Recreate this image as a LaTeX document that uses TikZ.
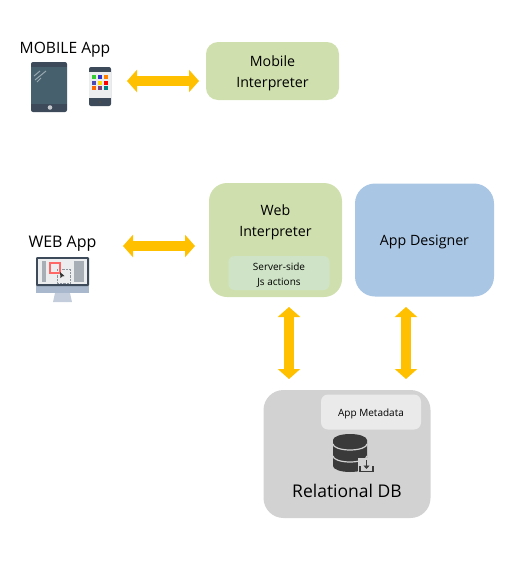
\documentclass[tikz,border=0pt]{standalone}
\usepackage{fontspec}
\setmainfont{Open Sans}
\usepackage{xcolor}
\usetikzlibrary{arrows.meta,positioning}
\definecolor{boxgreen}{HTML}{CFE0AE}
\definecolor{boxpale}{HTML}{CFE4C6}
\definecolor{boxblue}{HTML}{A9C6E4}
\definecolor{boxgrey}{HTML}{D2D2D2}
\definecolor{boxlight}{HTML}{EAEAEA}
\definecolor{linkgold}{HTML}{FFC000}
\definecolor{slate}{HTML}{3C4A5A}
\definecolor{screen}{HTML}{46606E}
\definecolor{dbdark}{HTML}{3A3A3A}
\definecolor{standblue}{HTML}{A9B8CC}

\begin{document}
\begin{tikzpicture}[x=1pt, y=-1pt, font=\fontsize{14.2}{21}\selectfont,
    box/.style={rectangle, rounded corners=12pt, align=center, inner sep=0pt},
    link/.style={draw=linkgold, line width=10pt, {Triangle[length=10pt,width=22pt]}-{Triangle[length=10pt,width=22pt]}},
    label/.style={inner sep=0pt, align=center}]
    \useasboundingbox (0,0) rectangle (518,563);
    % boxes
    \node[box, fill=boxgreen, minimum width=133, minimum height=58] (mobile) at (272.5,71) {};
    \node[label] (mobiletext) at (272.5,73) {Mobile\\Interpreter};
    \node[box, rounded corners=18pt, fill=boxgreen, minimum width=133, minimum height=114] (web) at (275.5,240) {};
    \node[label] (webtext) at (275.5,222) {Web\\Interpreter};
    \node[box, rounded corners=6pt, fill=boxpale, minimum width=101, minimum height=34] (js) at (279,273) {};
    \node[label, font=\fontsize{10}{15}\selectfont] (jstext) at (279,275) {Server-side\\Js actions};
    \node[box, rounded corners=20pt, fill=boxblue, minimum width=139, minimum height=113] (designer) at (424.5,240) {};
    \node[label] (designertext) at (424.5,242) {App Designer};
    \node[box, rounded corners=20pt, fill=boxgrey, minimum width=167, minimum height=128] (db) at (347,454) {};
    \node[box, rounded corners=7pt, fill=boxlight, minimum width=100, minimum height=35] (meta) at (371,412) {};
    \node[label, font=\fontsize{10}{12}\selectfont] (metatext) at (371,413.5) {App Metadata};
    \node[label, font=\fontsize{17.5}{20}\selectfont] (dbtext) at (347,491) {Relational DB};
    % titles
    \node[label, font=\fontsize{15.6}{18}\selectfont] (mobiletitle) at (65,50) {MOBILE App};
    \node[label, font=\fontsize{16}{18}\selectfont] (webtitle) at (62.5,244) {WEB App};
    % link ends
    \coordinate (m1) at (127,81);
    \coordinate (m2) at (199,81);
    \coordinate (w1) at (123,246);
    \coordinate (w2) at (195,246);
    \coordinate (wb1) at (289,307);
    \coordinate (wb2) at (289,379);
    \coordinate (db1) at (406,307);
    \coordinate (db2) at (406,379);
    \draw[link] (m1) -- (m2);
    \draw[link] (w1) -- (w2);
    \draw[link] (wb1) -- (wb2);
    \draw[link] (db1) -- (db2);
    % tablet
    \fill[slate, rounded corners=2pt] (31,62) rectangle (67,112);
    \fill[screen] (31,67) rectangle (67,104);
    \fill[white!70!slate] (50,107.5) circle (2.3);
    \draw[white!45!screen, line width=1pt] (34,76) -- (40,71) (35,80) -- (46,71) (37,82) -- (41,78);
    % phone
    \fill[slate, rounded corners=2pt] (89,67) rectangle (111,106);
    \fill[white!90!slate] (89,72) rectangle (111,98);
    \foreach \col/\row/\tint in {0/0/green!60!gray, 1/0/blue!60!gray, 2/0/orange, 0/1/blue!40!gray, 1/1/yellow!80!orange, 2/1/red, 0/2/orange!80!red, 1/2/violet!50!gray, 2/2/teal}
        \fill[\tint] (92+\col*6,75+\row*5.7) rectangle +(4,4);
    \fill[black!70] (100,102) circle (1.5);
    % monitor
    \fill[standblue!70!white] (55,293) -- (70,293) -- (72,302) -- (53,302) -- cycle;
    \fill[standblue] (36,286) rectangle (89,293);
    \fill[slate, rounded corners=1pt] (36,257) rectangle (89,286);
    \fill[white!90!slate] (38,259) rectangle (87,284);
    \fill[white!55!slate] (42,261) rectangle (46,282);
    \fill[white!55!slate] (74,261) rectangle (84,282);
    \draw[white!40!slate, densely dotted] (57,269) rectangle (70,283);
    \draw[red!60, line width=2pt] (50,263) rectangle (60,273);
    \fill[black!80] (60,272) -- (64.5,276) -- (62,276.5) -- (60.5,278) -- cycle;
    % database icon
    \fill[dbdark] (333,440) -- (333,466) arc[start angle=180, end angle=0, x radius=17, y radius=6] -- (367,440) -- cycle;
    \fill[dbdark] (350,440) ellipse[x radius=17, y radius=6];
    \draw[boxgrey, line width=1.2pt] (333,444) arc[start angle=180, end angle=0, x radius=17, y radius=6];
    \draw[boxgrey, line width=1.2pt] (333,456) arc[start angle=180, end angle=0, x radius=17, y radius=6];
    \fill[boxgrey] (358,458) rectangle (376,475);
    \draw[dbdark, line width=1.5pt] (360,466) -- (360,471.5) -- (373,471.5) -- (373,466);
    \draw[dbdark, line width=1.5pt, -{Triangle[length=3.5pt,width=6pt]}] (366.5,460) -- (366.5,469);
\end{tikzpicture}
\end{document}
